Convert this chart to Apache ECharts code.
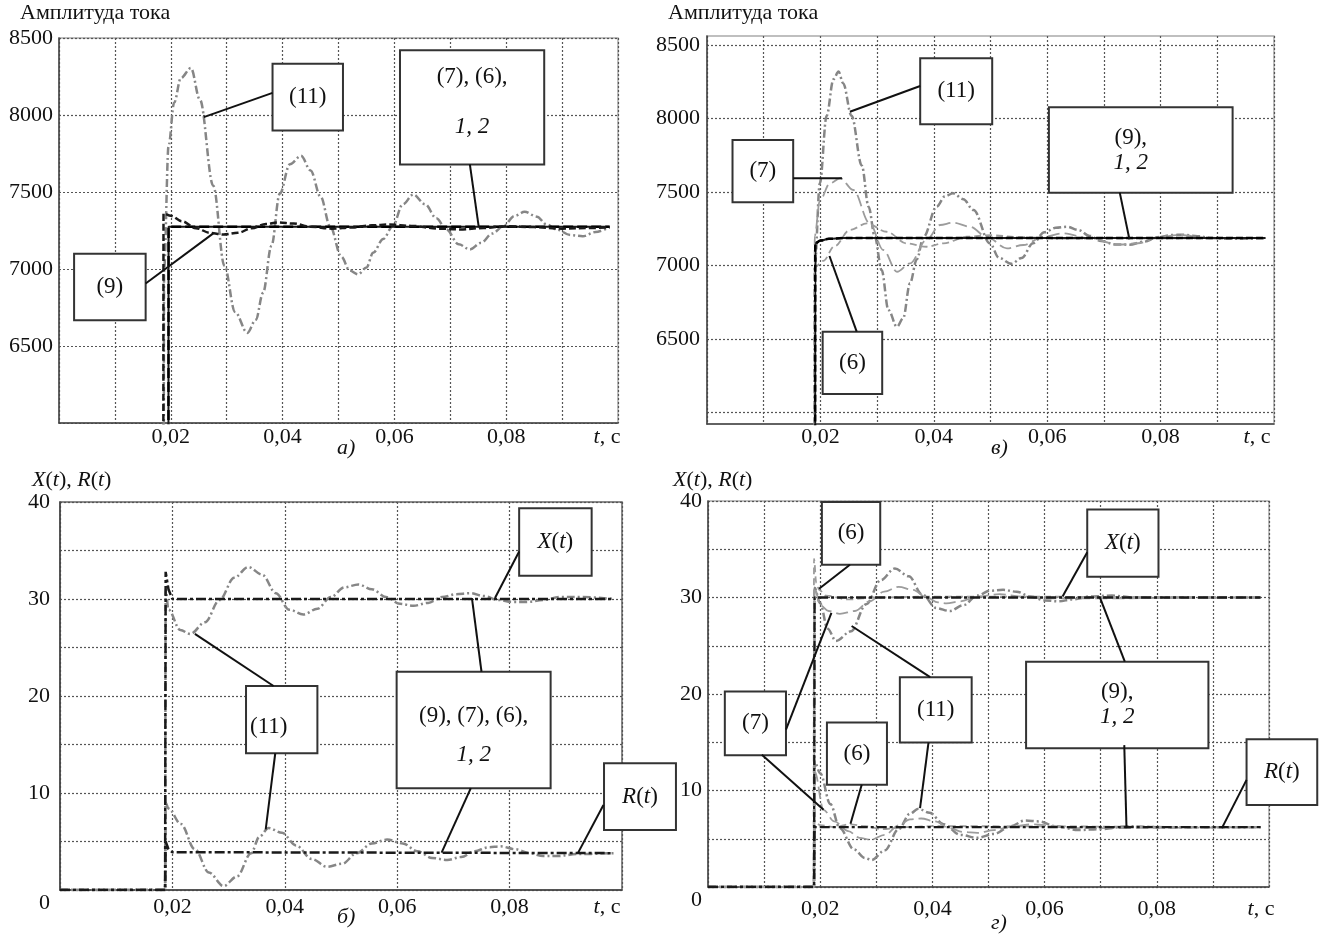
<!DOCTYPE html>
<html><head><meta charset="utf-8">
<script src="https://cdn.jsdelivr.net/npm/echarts@6/dist/echarts.min.js"></script>
<style>html,body{margin:0;padding:0;background:#fff}#c{width:1322px;height:938px}</style>
</head><body><div id="c"></div><script>
// ---------------- DATA ----------------
// time axis ticks (s)
const xTickLabels = ['0,02', '0,04', '0,06', '0,08'];
const yTicksAmpA = [6500, 7000, 7500, 8000, 8500];
const yTicksAmpV = [6500, 7000, 7500, 8000, 8500];
const yTicksXR = [0, 10, 20, 30, 40];

// Panel а: current amplitude
const a11 = [[0,0],[0.0186,0],[0.0188,7000],[0.0196,7800],[0.0206,8080],[0.0218,8240],[0.0236,8305],[0.0252,8100],[0.0276,7540],[0.0296,7020],[0.0315,6720],[0.0337,6585],[0.0352,6670],[0.0365,6845],[0.0380,7150],[0.0395,7490],[0.0413,7680],[0.0433,7735],[0.0450,7640],[0.0468,7470],[0.0485,7278],[0.0505,7080],[0.0520,6990],[0.0535,6965],[0.0550,7010],[0.0562,7105],[0.0580,7195],[0.0597,7278],[0.0615,7420],[0.0634,7484],[0.0655,7420],[0.0675,7330],[0.0693,7257],[0.0715,7160],[0.0735,7127],[0.0755,7170],[0.0775,7230],[0.0795,7278],[0.0815,7345],[0.0833,7371],[0.0855,7340],[0.0872,7290],[0.0890,7257],[0.0915,7220],[0.0937,7213],[0.0960,7240],[0.0982,7268]];
const a9 = [[0,0],[0.0186,0],[0.0187,7360],[0.0200,7345],[0.0220,7310],[0.0245,7265],[0.0270,7235],[0.0294,7224],[0.0320,7235],[0.0345,7265],[0.0370,7292],[0.0392,7302],[0.0420,7295],[0.0450,7275],[0.0488,7262],[0.0525,7270],[0.0560,7284],[0.0590,7289],[0.0630,7280],[0.0680,7262],[0.0717,7257],[0.0760,7266],[0.0800,7278],[0.0850,7272],[0.0900,7262],[0.0950,7266],[0.0985,7270]];
const aFlat = [[0,0],[0.0195,0],[0.0196,7275],[0.0985,7275]]; // (7), (6), 1, 2

// Panel в: current amplitude
const v11 = [[0,0],[0.0189,0],[0.0190,6990],[0.0199,7558],[0.0211,8017],[0.0223,8265],[0.0232,8318],[0.0240,8239],[0.0255,8017],[0.0273,7678],[0.0285,7399],[0.0296,7194],[0.0308,6967],[0.0320,6695],[0.0335,6581],[0.0346,6640],[0.0358,6877],[0.0370,7040],[0.0382,7194],[0.0405,7399],[0.0420,7470],[0.0434,7490],[0.0452,7450],[0.0470,7376],[0.0499,7149],[0.0515,7050],[0.0537,7010],[0.0555,7050],[0.0575,7150],[0.0595,7225],[0.0615,7255],[0.0635,7262],[0.0655,7240],[0.0675,7200],[0.0695,7165],[0.0720,7142],[0.0745,7140],[0.0770,7160],[0.0795,7190],[0.0820,7206],[0.0840,7208],[0.0865,7198],[0.0890,7185],[0.0920,7180],[0.0985,7185]];
const v7 = [[0,0],[0.0189,0],[0.0190,7200],[0.0199,7442],[0.0217,7558],[0.0235,7592],[0.0258,7512],[0.0287,7285],[0.0311,7104],[0.0335,6956],[0.0358,7013],[0.0387,7172],[0.0411,7274],[0.0434,7290],[0.0464,7262],[0.0493,7194],[0.0529,7115],[0.0558,7138],[0.0593,7194],[0.0628,7217],[0.0675,7183],[0.0728,7140],[0.0760,7150],[0.0800,7195],[0.0834,7206],[0.0882,7185],[0.0985,7185]];
const v6 = [[0,0],[0.0190,0],[0.0191,6990],[0.0205,7030],[0.0225,7130],[0.0252,7240],[0.0282,7285],[0.0317,7228],[0.0352,7149],[0.0387,7126],[0.0417,7149],[0.0458,7194],[0.0500,7205],[0.0550,7192],[0.0620,7182],[0.0985,7185]];
const vFlat = [[0,0],[0.0190,0],[0.0191,7150],[0.0200,7168],[0.0215,7180],[0.0240,7185],[0.0985,7185]]; // (9), 1, 2

// Panel б: X(t), R(t)
const bX11 = [[0,0],[0.0187,0],[0.0188,31],[0.0193,28.9],[0.0214,26.8],[0.0232,26.4],[0.0258,27.6],[0.0284,29.9],[0.0310,32.2],[0.0335,33.3],[0.0360,32.5],[0.0384,30.6],[0.0408,28.9],[0.0433,28.4],[0.0458,29.0],[0.0482,30.2],[0.0506,31.2],[0.0531,31.5],[0.0555,31.0],[0.0580,30.2],[0.0605,29.5],[0.0629,29.3],[0.0655,29.6],[0.0680,30.2],[0.0705,30.5],[0.0730,30.6],[0.0755,30.3],[0.0780,29.9],[0.0805,29.7],[0.0830,29.7],[0.0860,29.9],[0.0890,30.2],[0.0930,30.2],[0.0985,30]];
const bXFlat = [[0,0],[0.0187,0],[0.0188,32.8],[0.0193,31],[0.0200,30],[0.0985,30]]; // (9), (7), (6), 1, 2
const bR11 = [[0,0],[0.0187,0],[0.0188,9],[0.0193,8.4],[0.0215,6.8],[0.0240,4.2],[0.0265,1.8],[0.0291,0.4],[0.0315,1.4],[0.0340,3.8],[0.0355,5.5],[0.0371,6.4],[0.0395,5.9],[0.0420,4.6],[0.0448,3.2],[0.0475,2.4],[0.0502,2.7],[0.0528,3.8],[0.0555,4.8],[0.0582,5.2],[0.0610,4.8],[0.0636,4.0],[0.0662,3.3],[0.0689,3.1],[0.0714,3.4],[0.0738,4.0],[0.0762,4.4],[0.0784,4.5],[0.0810,4.2],[0.0835,3.8],[0.0860,3.5],[0.0885,3.5],[0.0920,3.7],[0.0985,3.8]];
const bRFlat = [[0,0],[0.0187,0],[0.0188,5],[0.0193,4.2],[0.0200,3.9],[0.0985,3.8]];

// Panel г: X(t), R(t)
const gXFlat = [[0,0],[0.0189,0],[0.0190,30],[0.0985,30]]; // (9), 1, 2
const gX6 = [[0,0],[0.0188,0],[0.0189,34],[0.0193,31.5],[0.0198,30.8],[0.0210,30.2],[0.0250,29.8],[0.0300,30],[0.0400,30.1],[0.0985,30]];
const gX7 = [[0,0],[0.0189,0],[0.0190,31],[0.0200,29.2],[0.0215,28.6],[0.0235,28.3],[0.0262,28.6],[0.0288,29.6],[0.0314,30.6],[0.0340,31.1],[0.0365,30.8],[0.0390,30],[0.0410,29.5],[0.0425,29.4],[0.0450,29.6],[0.0480,30.1],[0.0520,30.35],[0.0560,30.1],[0.0600,29.9],[0.0985,30]];
const gX11 = [[0,0],[0.0189,0],[0.0190,31],[0.0200,29.4],[0.0213,26.8],[0.0228,25.5],[0.0255,26.5],[0.0282,29.3],[0.0308,31.8],[0.0333,33.0],[0.0358,32.2],[0.0382,30.3],[0.0407,28.9],[0.0431,28.6],[0.0455,29.2],[0.0480,30.2],[0.0503,30.7],[0.0526,30.8],[0.0550,30.6],[0.0575,30.1],[0.0600,29.7],[0.0625,29.6],[0.0650,29.8],[0.0680,30.1],[0.0720,30.2],[0.0760,30.0],[0.0985,30]];
const gRFlat = [[0,0],[0.0189,0],[0.0190,6.2],[0.0985,6.2]]; // (9), 1, 2
const gR6 = [[0,0],[0.0189,0],[0.0190,6.8],[0.0200,6.4],[0.0225,6.2],[0.0253,6.5],[0.0280,6.3],[0.0310,6.0],[0.0350,6.2],[0.0400,6.3],[0.0985,6.2]];
const gR7 = [[0,0],[0.0189,0],[0.0190,12],[0.0206,8.0],[0.0225,6.8],[0.0250,5.8],[0.0270,5.1],[0.0290,4.9],[0.0315,5.4],[0.0340,6.4],[0.0360,7.0],[0.0380,7.1],[0.0405,6.8],[0.0430,6.1],[0.0455,5.7],[0.0480,5.6],[0.0510,5.9],[0.0545,6.3],[0.0580,6.5],[0.0620,6.3],[0.0660,6.1],[0.0985,6.2]];
const gR11 = [[0,0],[0.0189,0],[0.0190,13],[0.0200,11.8],[0.0218,8.6],[0.0235,6.1],[0.0260,3.9],[0.0280,3.0],[0.0292,2.8],[0.0315,3.8],[0.0340,6.0],[0.0360,7.6],[0.0375,8.1],[0.0395,7.7],[0.0420,6.5],[0.0450,5.4],[0.0480,5.1],[0.0510,5.5],[0.0540,6.3],[0.0565,6.9],[0.0590,6.8],[0.0620,6.3],[0.0660,5.9],[0.0700,6.0],[0.0750,6.3],[0.0800,6.2],[0.0985,6.2]];

// ---------------- STYLE / LAYOUT ----------------
const FONT = '"Liberation Serif", "Times New Roman", serif';
const TXT = '#111';
const BLACK = '#1a1a1a', G11 = '#868686', G7 = '#9c9c9c';
const TICK_FS = 22, BOX_FS = 23;
const gridBoxes = [
  {left:59, top:38, width:559, height:385},   // а
  {left:707, top:36, width:567, height:388},  // в
  {left:60, top:502, width:562, height:388},  // б
  {left:708, top:501, width:561, height:386}  // г
];
const italicRich = {fontStyle:'italic', fontFamily:FONT, fontSize:TICK_FS, color:TXT};

function xAxisCfg(grid, interval, margin, shift) {
  return {
    type:'value', gridIndex:grid, min:0, max:0.1, interval:interval,
    axisLine:{show:true, onZero:false, lineStyle:{color:'#444', width:1.5}},
    axisTick:{show:false},
    splitLine:{show:true, lineStyle:{color:'#555', type:[2,2], width:1.2}},
    axisLabel:{
      margin:margin, fontFamily:FONT, fontSize:TICK_FS, color:TXT, showMinLabel:true, showMaxLabel:true,
      formatter:function(v){
        const k = Math.round(v*100);
        if (k === 10) return '{i|t}, с{p| }';
        if (k > 0 && k < 10 && k % 2 === 0) return xTickLabels[k/2 - 1];
        return '';
      },
      rich:{i:italicRich, p:{width:shift, fontFamily:FONT, fontSize:TICK_FS}}
    }
  };
}
function yAxisCfg(grid, min, max, interval, labels, margin, custom) {
  const ax = {
    type:'value', gridIndex:grid, min:min, max:max,
    axisLine:{show:true, onZero:false, lineStyle:{color:'#444', width:1.5}},
    axisTick:{show:false},
    splitLine:{show:true, lineStyle:{color:'#555', type:[2,2], width:1.2}},
    axisLabel:{
      margin:margin, fontFamily:FONT, fontSize:TICK_FS, color:TXT, showMinLabel:true, showMaxLabel:true,
      formatter:function(v){
        if (labels.indexOf(v) < 0) return '';
        if (v === 0) return '{z|0}';
        return String(v);
      },
      rich:{z:{padding:[26,0,0,0], fontFamily:FONT, fontSize:TICK_FS, color:TXT}}
    }
  };
  if (custom) {
    ax.axisTick.customValues = custom;
    ax.axisLabel.customValues = labels;
  } else {
    ax.interval = interval;
  }
  return ax;
}
function line(grid, data, color, type, width, z, smooth) {
  return {
    type:'line', xAxisIndex:grid, yAxisIndex:grid, data:data,
    showSymbol:false, symbol:'none', smooth: smooth ? 0.35 : false, smoothMonotone:'x',
    clip:true, silent:true, z:z,
    lineStyle:{color:color, type:type, width:width}
  };
}
const DASHDOT = [8,3,2,3], LDASH = [12,5], DASH = [7,4], BDASH = [7,3];

const series = [
  // а
  line(0, a11, G11, DASHDOT, 2.5, 3, true),
  line(0, aFlat, BLACK, 'solid', 2, 4, false),
  line(0, aFlat, '#000', [10,4], 2.5, 5, false),
  line(0, a9, BLACK, BDASH, 2.5, 6, true),
  // в
  line(1, v11, G11, DASHDOT, 2.5, 3, true),
  line(1, v7, G7, LDASH, 1.8, 3, true),
  line(1, v6, G7, DASH, 1.8, 3, true),
  line(1, vFlat, BLACK, 'solid', 2, 5, true),
  line(1, vFlat, '#000', BDASH, 2.5, 6, true),
  // б
  line(2, bX11, G11, DASHDOT, 2.5, 3, true),
  line(2, bR11, G11, DASHDOT, 2.5, 3, true),
  line(2, bXFlat, BLACK, [10,3,3,3], 2.5, 5, false),
  line(2, bRFlat, BLACK, [10,3,3,3], 2.5, 5, false),
  // г
  line(3, gX11, G11, DASHDOT, 2.5, 3, true),
  line(3, gX7, G7, LDASH, 1.8, 3, true),
  line(3, gX6, G7, DASH, 1.8, 3, true),
  line(3, gXFlat, BLACK, [10,3,3,3], 2.3, 5, false),
  line(3, gR11, G11, DASHDOT, 2.5, 3, true),
  line(3, gR7, G7, LDASH, 1.8, 3, true),
  line(3, gR6, G7, DASH, 1.8, 3, true),
  line(3, gRFlat, BLACK, [10,3,3,3], 2.3, 5, false)
];

function ttl(text, left, top, size, italic) {
  return {text:text, left:left, top:top, padding:0,
    textStyle:{fontFamily:FONT, fontSize:size, fontWeight:'normal', fontStyle: italic ? 'italic':'normal', color:TXT,
      rich:{i:{fontStyle:'italic', fontFamily:FONT, fontSize:size, color:TXT}}}};
}

const option = {
  animation:false,
  backgroundColor:'#fff',
  title:[
    ttl('Амплитуда тока', 20, 2, 22, false),
    ttl('Амплитуда тока', 668, 2, 22, false),
    ttl('{i|X}({i|t}), {i|R}({i|t})', 32, 469, 22, false),
    ttl('{i|X}({i|t}), {i|R}({i|t})', 673, 469, 22, false),
    ttl('а)', 337, 437, 22, true),
    ttl('в)', 991, 437, 22, true),
    ttl('б)', 337, 906, 22, true),
    ttl('г)', 991, 912, 22, true)
  ],
  grid: gridBoxes.map(function(g, i){ return Object.assign({show:true, borderColor: i===2 ? '#666' : '#aaa', borderWidth:1.5, backgroundColor:'transparent', containLabel:false, outerBoundsMode:'none'}, g); }),
  xAxis:[ xAxisCfg(0, 0.01, 3, 22), xAxisCfg(1, 0.01, 2, 34), xAxisCfg(2, 0.02, 6, 30), xAxisCfg(3, 0.01, 11.5, 16) ],
  yAxis:[
    yAxisCfg(0, 6000, 8500, 500, yTicksAmpA, 6, null),
    yAxisCfg(1, 5920, 8560, 500, yTicksAmpV, 7, [6000,6500,7000,7500,8000,8500]),
    yAxisCfg(2, 0, 40, 5, yTicksXR, 10, null),
    yAxisCfg(3, 0, 40, 5, yTicksXR, 6, null)
  ],
  series: series
};

const chart = echarts.init(document.getElementById('c'), null, {renderer:'canvas'});
chart.setOption(option);

// ---------------- CALLOUTS (anchored in data coordinates) ----------------
const callouts = [
  {grid:0, box:[0.0382,8332,0.0508,7899], text:'(11)', leaders:[[[0.0382,8144],[0.0259,7986]]]},
  {grid:0, box:[0.0610,8421,0.0868,7679], text:'(7), (6),\n{i|1, 2}', lh:50, dy:-5, leaders:[[[0.0735,7679],[0.0751,7271]]]},
  {grid:0, box:[0.0027,7099,0.0155,6668], text:'(9)', leaders:[[[0.0155,6906],[0.0276,7231]]]},
  {grid:1, box:[0.0376,8408,0.0503,7959], text:'(11)', leaders:[[[0.0376,8220],[0.0252,8045]]]},
  {grid:1, box:[0.0045,7852,0.0152,7428], text:'(7)', leaders:[[[0.0152,7592],[0.0238,7592]]]},
  {grid:1, box:[0.0204,6548,0.0309,6124], text:'(6)', leaders:[[[0.0264,6548],[0.0216,7063]]]},
  {grid:1, box:[0.0603,8075,0.0927,7494], text:'(9),\n{i|1, 2}', lh:25, dx:-10, leaders:[[[0.0728,7494],[0.0745,7177]]]},
  {grid:2, box:[0.0817,39.35,0.0946,32.4], text:'{i|X}({i|t})', leaders:[[[0.0817,34.9],[0.0774,30.1]]]},
  {grid:2, box:[0.0599,22.5,0.0873,10.5], text:'(9), (7), (6),\n{i|1, 2}', lh:39, dy:6, leaders:[[[0.0750,22.5],[0.0733,30.1]],[[0.0731,10.5],[0.0679,3.85]]]},
  {grid:2, box:[0.0968,13.06,0.1096,6.19], text:'{i|R}({i|t})', leaders:[[[0.0967,8.76],[0.0922,3.85]]]},
  {grid:2, box:[0.0331,21.03,0.0458,14.09], text:'(11)', dx:-13, dy:7, leaders:[[[0.0380,21.03],[0.0240,26.4]],[[0.0383,14.09],[0.0366,6.26]]]},
  {grid:3, box:[0.0203,39.9,0.0307,33.4], text:'(6)', leaders:[[[0.0253,33.4],[0.0198,30.9]]]},
  {grid:3, box:[0.0676,39.13,0.0803,32.15], text:'{i|X}({i|t})', leaders:[[[0.0676,34.7],[0.0632,30.1]]]},
  {grid:3, box:[0.0567,23.35,0.0892,14.39], text:'(9),\n{i|1, 2}', lh:25, leaders:[[[0.0743,23.35],[0.0698,30.1]],[[0.0742,14.7],[0.0746,6.1]]]},
  {grid:3, box:[0.0960,15.3,0.1086,8.5], text:'{i|R}({i|t})', leaders:[[[0.0960,11.1],[0.0916,6.1]]]},
  {grid:3, box:[0.0030,20.25,0.0139,13.66], text:'(7)', leaders:[[[0.0139,16.3],[0.0220,28.4]],[[0.0096,13.7],[0.0206,8.0]]]},
  {grid:3, box:[0.0342,21.74,0.0470,14.97], text:'(11)', leaders:[[[0.0396,21.74],[0.0256,27.05]],[[0.0393,14.97],[0.0378,8.18]]]},
  {grid:3, box:[0.0212,17.04,0.0319,10.59], text:'(6)', leaders:[[[0.0274,10.59],[0.0254,6.55]]]}
];

const graphics = [];
callouts.forEach(function(c){
  const f = {gridIndex:c.grid};
  const p1 = chart.convertToPixel(f, [c.box[0], c.box[1]]);
  const p2 = chart.convertToPixel(f, [c.box[2], c.box[3]]);
  const x = Math.min(p1[0], p2[0]), y = Math.min(p1[1], p2[1]);
  const w = Math.abs(p2[0]-p1[0]), h = Math.abs(p2[1]-p1[1]);
  graphics.push({type:'rect', z:100, silent:true, shape:{x:x, y:y, width:w, height:h},
    style:{fill:'#fff', stroke:'#333', lineWidth:2}});
  const lh = c.lh || 26;
  graphics.push({type:'text', z:102, silent:true,
    style:{text:c.text, x:x + w/2 + (c.dx||0), y:y + h/2 + (c.dy||0), fill:TXT,
      fontFamily:FONT, fontSize:BOX_FS, lineHeight:lh,
      align:'center', verticalAlign:'middle', textAlign:'center', textVerticalAlign:'middle',
      rich:{i:{fontStyle:'italic', fontFamily:FONT, fontSize:BOX_FS, fill:TXT, lineHeight:lh}}}});
  c.leaders.forEach(function(L){
    const a = chart.convertToPixel(f, L[0]);
    const b = chart.convertToPixel(f, L[1]);
    graphics.push({type:'line', z:101, silent:true, shape:{x1:a[0], y1:a[1], x2:b[0], y2:b[1]},
      style:{stroke:'#111', lineWidth:2}});
  });
});
chart.setOption({graphic:graphics});
</script></body></html>
